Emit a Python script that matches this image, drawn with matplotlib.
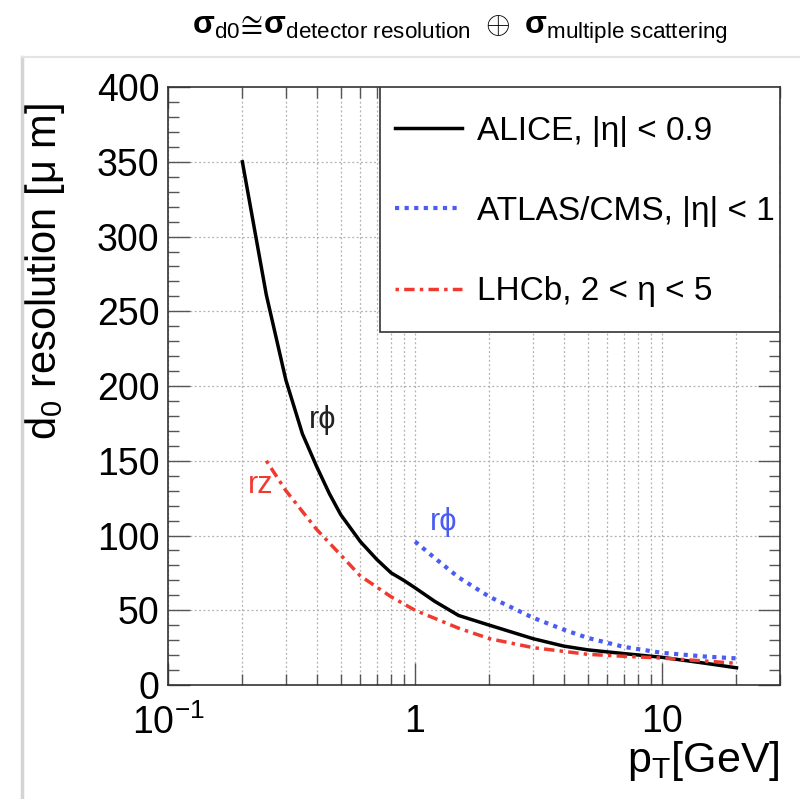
import matplotlib
matplotlib.use("Agg")
import matplotlib.pyplot as plt
from matplotlib.lines import Line2D
from matplotlib.patches import Rectangle
from matplotlib.ticker import FixedLocator, FixedFormatter, MultipleLocator, NullFormatter

plt.rcParams["font.family"] = ["Liberation Sans", "DejaVu Sans"]
plt.rcParams["mathtext.fontset"] = "custom"
plt.rcParams["mathtext.rm"] = "Liberation Sans"
plt.rcParams["mathtext.it"] = "Liberation Sans:italic"
plt.rcParams["mathtext.bf"] = "Liberation Sans:bold"

# ALICE, |eta| < 0.9 (r-phi)
alice_pt = [0.2, 0.25, 0.3, 0.35, 0.4, 0.45, 0.5, 0.6, 0.7, 0.8, 0.9, 1.0, 1.2, 1.5, 2, 3, 4, 5, 7, 10, 15, 20]
alice_d0 = [350, 261, 204, 168, 146, 128, 114, 96, 84, 75, 70, 65, 56, 46.5, 40, 31, 26, 23.5, 21, 18.5, 14.5, 11.5]

# ATLAS/CMS, |eta| < 1 (r-phi)
atlas_pt = [1.0, 1.2, 1.5, 2, 3, 4, 5, 7, 10, 15, 20]
atlas_d0 = [96, 85, 72, 59, 45, 37, 31.5, 25.5, 21.5, 19, 17.8]

# LHCb, 2 < eta < 5 (rz)
lhcb_pt = [0.25, 0.3, 0.4, 0.5, 0.6, 0.8, 1.0, 1.5, 2, 3, 5, 7, 10, 15, 20]
lhcb_d0 = [150, 130, 104, 87, 73, 59, 50, 38, 31, 25, 20.5, 19.2, 18, 16, 14.5]

x_major = [0.1, 1, 10]
x_major_labels = ["$10^{-1}$", "1", "10"]
x_minor = [0.2, 0.3, 0.4, 0.5, 0.6, 0.7, 0.8, 0.9, 2, 3, 4, 5, 6, 7, 8, 9, 20, 30]

blue = "#4a5cf2"
red = "#f03a30"

fig = plt.figure(figsize=(8, 7.99), dpi=100)
ax = fig.add_axes([0.21, 0.1427, 0.765, 0.7483])

# grid first so curves sit on top
for xv in x_major + x_minor:
    ax.axvline(xv, color="#b0b0b0", lw=0.9, ls=(0, (1.5, 2)), zorder=0)
for yv in range(50, 400, 50):
    ax.axhline(yv, color="#b0b0b0", lw=0.9, ls=(0, (1.5, 2)), zorder=0)

ax.plot(alice_pt, alice_d0, color="black", lw=2.5, label="ALICE, |η| < 0.9")
ax.plot(atlas_pt, atlas_d0, color=blue, lw=3, ls=(0, (1, 1.3)), label="ATLAS/CMS, |η| < 1")
ax.plot(lhcb_pt, lhcb_d0, color=red, lw=2.5, ls=(0, (1, 1.5, 3, 1.5)), label="LHCb, 2 < η < 5")

ax.text(0.424, 177, "rϕ", fontsize=22, color="#222222", ha="center", va="center")
ax.text(0.236, 134, "rz", fontsize=22, color=red, ha="center", va="center")
ax.text(1.30, 109, "rϕ", fontsize=22, color=blue, ha="center", va="center")

ax.set_xscale("log")
ax.set_xlim(0.1, 30)
ax.set_ylim(0, 400)

ax.xaxis.set_major_locator(FixedLocator(x_major))
ax.xaxis.set_major_formatter(FixedFormatter(x_major_labels))
ax.xaxis.set_minor_locator(FixedLocator(x_minor))
ax.xaxis.set_minor_formatter(NullFormatter())
ax.yaxis.set_major_locator(MultipleLocator(50))
ax.yaxis.set_minor_locator(MultipleLocator(10))

ax.tick_params(which="both", direction="in", top=True, right=True, width=1, colors="#555555",
               labelcolor="black")
ax.tick_params(which="major", length=16)
ax.tick_params(which="minor", length=8)
ax.tick_params(axis="y", labelsize=27, pad=6)
ax.tick_params(axis="x", labelsize=27, pad=14)
for s in ax.spines.values():
    s.set_color("#333333")
    s.set_linewidth(1.2)

ax.set_xlabel("p$_{\\rm T}$[GeV]", fontsize=31, ha="right")
ax.xaxis.set_label_coords(1.0, -0.09)
ax.xaxis.label.set_va("top")
ax.set_ylabel("d$_{\\rm 0}$ resolution [μ m]", fontsize=30, ha="center")
ax.yaxis.set_label_coords(-0.165, 0.692)

# legend box drawn as a patch, entries placed inside without frame
ax.add_patch(Rectangle((0.346, 0.59), 0.654, 0.41, transform=ax.transAxes, facecolor="white",
                       edgecolor="#333333", lw=1.2, zorder=4))
leg = ax.legend(loc="upper left", bbox_to_anchor=(0.371, 0.952), borderaxespad=0, borderpad=0,
                fontsize=24, frameon=False, handlelength=2.0, handletextpad=0.45,
                labelspacing=1.48)
leg.set_zorder(5)

fig.text(0.575, 0.962,
         r"$\mathbf{σ}_{\rm d0}\!\cong\!\mathbf{σ}_{\rm detector\ resolution}\ \oplus\ \mathbf{σ}_{\rm multiple\ scattering}$",
         fontsize=23, ha="center", va="center")

# light canvas frame seen in the screenshot
fig.add_artist(Line2D([22 / 800, 22 / 800], [0, 1 - 57 / 799], transform=fig.transFigure,
                      color="#d4d4d4", lw=2.5))
fig.add_artist(Line2D([22 / 800, 1], [1 - 57 / 799, 1 - 57 / 799], transform=fig.transFigure,
                      color="#e4e4e4", lw=1.5))

fig.savefig("out.png", dpi=100)
